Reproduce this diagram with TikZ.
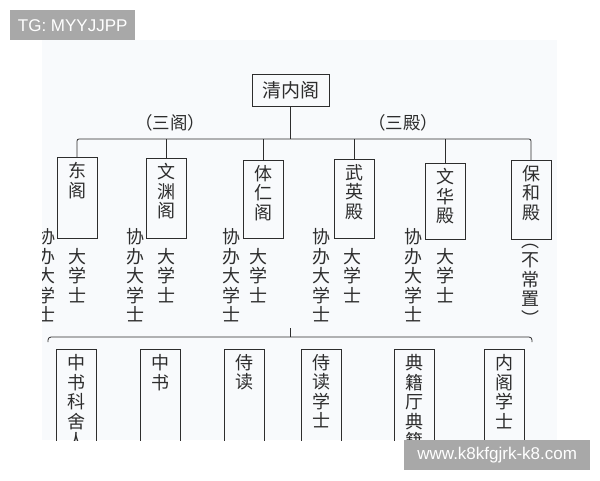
\documentclass[tikz,border=0pt]{standalone}
\usepackage{fontspec}
\setmainfont{Liberation Sans}
\newfontfamily\cjk{Noto Sans CJK SC}
\usetikzlibrary{positioning}

\definecolor{sheet}{RGB}{248,250,252}
\definecolor{ink}{RGB}{45,45,45}
\definecolor{markgray}{RGB}{168,168,168}

% vertical column of characters, fixed height, text at the top
\newcommand{\vcol}[2]{\parbox[t][#1][t]{1em}{\centering #2}}
\newcommand{\vtxt}[1]{\parbox[t]{1em}{\centering #1}}

\begin{document}
\begin{tikzpicture}[x=1pt, y=-1pt,
        hall/.style = {
            draw=ink,
            line width=0.8pt,
            anchor=north,
            minimum width=40pt,
            inner xsep=0pt,
            inner ysep=5pt,
            text=ink,
            font=\cjk\fontsize{18}{19.5}\selectfont
        },
        rank/.style = {
            inner sep=0pt,
            text=ink,
            font=\cjk\fontsize{18}{19.5}\selectfont
        },
        wire/.style = {draw=ink, line width=0.8pt},
        tag/.style = {
            fill=markgray,
            text=white,
            anchor=north west,
            inner sep=0pt,
            minimum height=30pt,
            font=\fontsize{17}{20}\selectfont
        }
    ]
    \useasboundingbox (0,0) rectangle (600,480);
    \fill[sheet] (42,40) rectangle (557,440);

    \begin{scope}
    \clip (42,40) rectangle (557,440);

    \node (qing) [draw=ink, line width=0.8pt, minimum width=77pt, minimum height=32pt,
        text=ink, font=\cjk\fontsize{19}{20}\selectfont] at (290.5,90) {清内阁};
    \node (sange) [text=ink, font=\cjk\fontsize{17.5}{18}\selectfont] at (170,123) {（三阁）};
    \node (sandian) [text=ink, font=\cjk\fontsize{17.5}{18}\selectfont] at (403,123) {（三殿）};

    % three ge, three dian
    \node (dong) [hall] at (77,157) {\vcol{71pt}{东\\阁}};
    \node (wenyuan) [hall] at (166,158) {\vcol{70pt}{文\\渊\\阁}};
    \node (tiren) [hall] at (263.5,160) {\vcol{68pt}{体\\仁\\阁}};
    \node (wuying) [hall] at (354,159) {\vcol{69pt}{武\\英\\殿}};
    \node (wenhua) [hall] at (445.5,163) {\vcol{66pt}{文\\华\\殿}};
    \node (baohe) [hall] at (531,160) {\vcol{69pt}{保\\和\\殿}};

    \coordinate (bus_l) at (77,139);
    \coordinate (bus_r) at (531,139);
    \draw[wire] (qing) -- (qing.south |- bus_l);
    \draw[wire, rounded corners=2pt] (dong.north) -- (bus_l) -- (bus_r) -- (baohe.north);
    \foreach \hall in {wenyuan, tiren, wuying, wenhua}
        \draw[wire] (\hall.north) -- (\hall.north |- bus_l);

    % grand secretaries
    \node (dong_da) [rank, anchor=north, below=9pt of dong] {\vtxt{大\\学\\士}};
    \node (dong_xie) [rank, left=12pt of dong_da] {\vtxt{协\\办\\大\\学\\士}};
    \node (wenyuan_da) [rank, anchor=north, below=9pt of wenyuan] {\vtxt{大\\学\\士}};
    \node (wenyuan_xie) [rank, left=12pt of wenyuan_da] {\vtxt{协\\办\\大\\学\\士}};
    \node (tiren_da) [rank, anchor=north, below=9pt of tiren, xshift=-5pt] {\vtxt{大\\学\\士}};
    \node (tiren_xie) [rank, left=9pt of tiren_da] {\vtxt{协\\办\\大\\学\\士}};
    \node (wuying_da) [rank, anchor=north, below=9pt of wuying, xshift=-2pt] {\vtxt{大\\学\\士}};
    \node (wuying_xie) [rank, left=12pt of wuying_da] {\vtxt{协\\办\\大\\学\\士}};
    \node (wenhua_da) [rank, anchor=north, below=8pt of wenhua] {\vtxt{大\\学\\士}};
    \node (wenhua_xie) [rank, left=14pt of wenhua_da] {\vtxt{协\\办\\大\\学\\士}};
    \node (baohe_note) [rank, anchor=north, below=4pt of baohe, xshift=-1pt] {\vtxt{︵\\不\\常\\置\\︶}};

    % lower offices
    \coordinate (low_l) at (48,342);
    \coordinate (low_r) at (532,342);
    \coordinate (stub) at (290,328);
    \draw[wire, rounded corners=3pt] (low_l) -- (low_l |- 0,337) -- (low_r |- 0,337) -- (low_r);
    \draw[wire] (stub) -- (stub |- 0,337);

    \node (sheren) [hall] at (76.5,349) {\vcol{120pt}{中\\书\\科\\舍\\人}};
    \node (zhongshu) [hall] at (160.5,349) {\vcol{120pt}{中\\书}};
    \node (shidu) [hall] at (244,349) {\vcol{120pt}{侍\\读}};
    \node (shidu_xs) [hall] at (321.5,349) {\vcol{120pt}{侍\\读\\学\\士}};
    \node (dianji) [hall] at (414,349) {\vcol{120pt}{典\\籍\\厅\\典\\籍}};
    \node (neige_xs) [hall] at (504.5,349) {\vcol{120pt}{内\\阁\\学\\士}};
    \end{scope}

    \node (tg) [tag, minimum width=125pt] at (10,10) {TG: MYYJJPP};
    \node (site) [tag, minimum width=186pt] at (404,440) {www.k8kfgjrk-k8.com};
\end{tikzpicture}
\end{document}
